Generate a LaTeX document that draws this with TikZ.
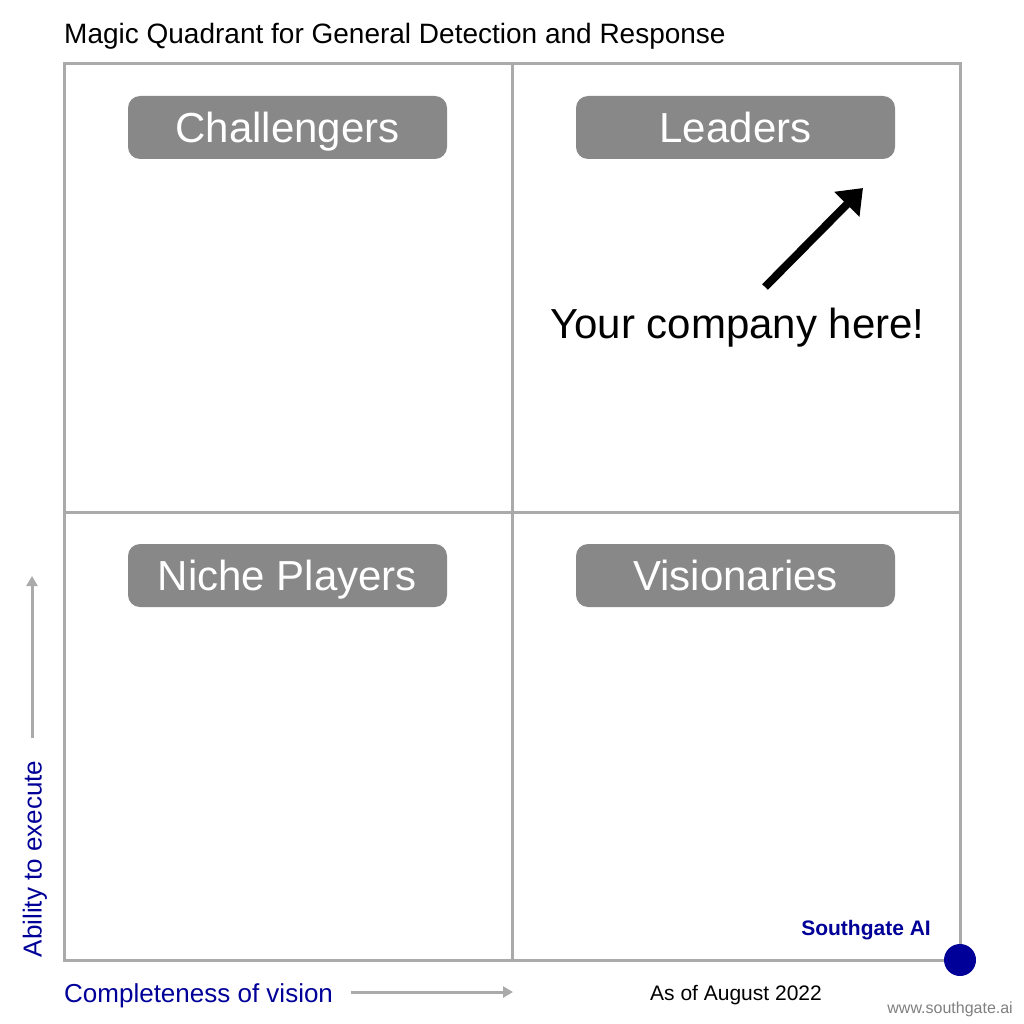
\documentclass[tikz,border=0pt]{standalone}
\usepackage{fontspec}
\setmainfont{Liberation Sans}
\usetikzlibrary{arrows.meta}
\definecolor{gridgray}{HTML}{AAAAAA}
\definecolor{boxgray}{HTML}{888888}
\definecolor{darkblue}{HTML}{000099}
\tikzset{
  quadbox/.style={draw=none, fill=boxgray, rounded corners=12pt, minimum width=319pt, minimum height=63pt, inner sep=0pt, text height=30pt, text depth=0pt, text=white, font=\fontsize{42}{50}\selectfont},
  gridline/.style={draw=gridgray, line width=3pt},
  axisarrow/.style={draw=gridgray, line width=3pt, -{Triangle[length=10pt, width=11pt]}},
  bluetext/.style={text=darkblue, inner sep=0pt}
}
\begin{document}
\begin{tikzpicture}[x=1pt, y=-1pt]
\useasboundingbox[fill=white] (0,0) rectangle (1024,1024);
% grid
\draw[gridline] (64,64) rectangle (960,960);
\draw[gridline] (512,64) -- (512,960);
\draw[gridline] (64,512) -- (960,512);
% title
\node[anchor=west, inner sep=0pt, font=\fontsize{28}{34}\selectfont] (title) at (64,36) {Magic Quadrant for General Detection and Response};
% quadrant boxes
\node[quadbox] (chal) at (287.5,127.5) {Challengers};
\node[quadbox] (lead) at (735.5,127.5) {Leaders};
\node[quadbox] (niche) at (287.5,575.5) {Niche Players};
\node[quadbox] (vis) at (735.5,575.5) {Visionaries};
% company
\node[inner sep=0pt, font=\fontsize{42}{50}\selectfont] (comp) at (737.5,328) {Your company here!};
\coordinate (cstart) at (765,287);
\coordinate (cend) at (863,188);
\draw[line width=8pt, -{Triangle[length=23pt, width=34pt]}] (cstart) -- (cend);
% axes
\node[bluetext, anchor=west, font=\fontsize{26}{30}\selectfont] (xlab) at (64,996) {Completeness of vision};
\coordinate (xs) at (351,992);
\coordinate (xe) at (513,992);
\draw[axisarrow] (xs) -- (xe);
\node[bluetext, rotate=90, font=\fontsize{26}{30}\selectfont] (ylab) at (35,859) {Ability to execute};
\coordinate (ys) at (32,738);
\coordinate (ye) at (32,576);
\draw[axisarrow] (ys) -- (ye);
% footer
\node[inner sep=0pt, font=\fontsize{21}{25}\selectfont] (asof) at (736,995) {As of August 2022};
\node[bluetext, anchor=east, font=\bfseries\fontsize{21}{25}\selectfont] (sg) at (931,930) {Southgate AI};
\fill[darkblue] (960,960) circle (16pt);
\node[anchor=east, inner sep=0pt, text=gray, font=\fontsize{16}{19}\selectfont] (www) at (1013,1009) {www.southgate.ai};
\end{tikzpicture}
\end{document}
